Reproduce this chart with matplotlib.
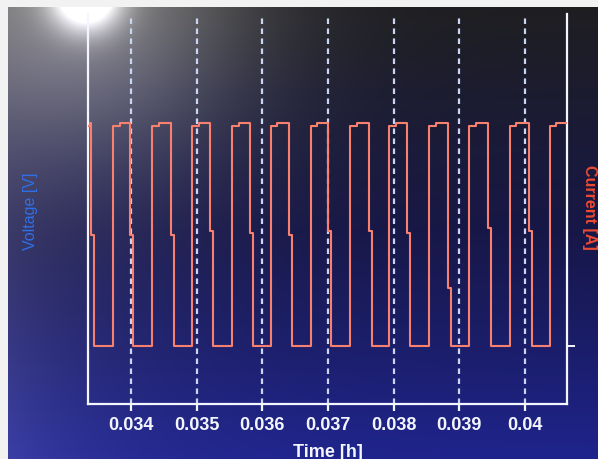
import numpy as np
import matplotlib
matplotlib.use("Agg")
import matplotlib.pyplot as plt

# ---------- data: current square wave (time in h, current in A) ----------
t_start = 0.033345
t_end = 0.040640

rise_t = [0.033726, 0.034320, 0.034929, 0.035538, 0.036132, 0.036741,
          0.037335, 0.037929, 0.038538, 0.039147, 0.039771, 0.040381]
fall_t = [0.033391, 0.033985, 0.034609, 0.035203, 0.035812, 0.036406,
          0.037000, 0.037624, 0.038203, 0.038827, 0.039437, 0.040061]
fall_end_t = [0.033430, 0.034024, 0.034648, 0.035242, 0.035851, 0.036445,
              0.037039, 0.037663, 0.038242, 0.038866, 0.039476, 0.040100]
fall_mid = [5.0, 5.0, 5.0, 5.2, 5.1, 5.0, 5.2, 5.2, 5.1, 2.6, 5.3, 5.2]
top_step_t = [0.033370, 0.033830, 0.034420, 0.035030, 0.035640, 0.036230,
              0.036840, 0.037435, 0.038030, 0.038640, 0.039250, 0.039870,
              0.040480]

i_low = 0.0
i_high_a = 9.9
i_high_b = 10.05

xtick_vals = [0.034, 0.035, 0.036, 0.037, 0.038, 0.039, 0.040]
xtick_labels = ["0.034", "0.035", "0.036", "0.037", "0.038", "0.039", "0.04"]

# ---------- build step trace ----------
tt = [t_start, top_step_t[0], top_step_t[0]]
ii = [i_high_a, i_high_a, i_high_b]
for k in range(len(fall_t)):
    tt += [fall_t[k], fall_t[k], fall_end_t[k], fall_end_t[k]]
    ii += [ii[-1], fall_mid[k], fall_mid[k], i_low]
    r = rise_t[k]
    s = top_step_t[k + 1]
    tt += [r, r, s, s]
    ii += [i_low, i_high_a, i_high_a, i_high_b]
tt += [t_end]
ii += [i_high_b]

# ---------- figure ----------
W, H = 598, 460
fig = plt.figure(figsize=(W / 100, H / 100), dpi=100, facecolor="#f2f2f2")

# screen background: dark top fading into blue, glare at upper left
bw, bh = 590, 452
yy, xx = np.mgrid[0:bh, 0:bw].astype(float)
fy = yy / bh
top = np.array([0.12, 0.12, 0.13])
mid = np.array([0.09, 0.09, 0.28])
bot = np.array([0.12, 0.14, 0.55])
w1 = np.clip(fy / 0.5, 0, 1)[..., None]
w2 = np.clip((fy - 0.5) / 0.5, 0, 1)[..., None]
img = top * (1 - w1) + mid * w1
img = img * (1 - w2) + bot * w2
left_glow = 0.11 * np.exp(-xx / 110.0)[..., None]
img = img + left_glow * np.array([1.0, 0.95, 0.9])
r = np.hypot(xx - 78, yy + 12)
img = img + 0.36 * np.exp(-(r / 160.0) ** 2)[..., None]
img = img + 0.9 * np.exp(-(r / 34.0) ** 2)[..., None]
img = np.clip(img, 0, 1)

bg = fig.add_axes([8 / W, 0, bw / W, bh / H])
bg.imshow(img, aspect="auto", interpolation="bilinear")
bg.axis("off")

ax = fig.add_axes([88 / W, 55 / H, 479 / W, 390 / H], facecolor="none")
ax.plot(tt, ii, color="#f7806e", lw=1.5, zorder=3)

ax.set_xlim(t_start, t_end)
ax.set_ylim(-2.6, 14.95)

spine_col = "#f4f6ff"
for side in ["left", "bottom", "right"]:
    ax.spines[side].set_color(spine_col)
    ax.spines[side].set_linewidth(1.6)
ax.spines["top"].set_visible(False)

ax.set_xticks(xtick_vals)
ax.set_xticklabels(xtick_labels)
ax.tick_params(axis="x", direction="out", length=5, width=1.6,
               colors=spine_col, labelsize=13, pad=4)
for lab in ax.get_xticklabels():
    lab.set_fontfamily("Liberation Sans")
    lab.set_fontweight("bold")

ax.yaxis.tick_right()
ax.set_yticks([i_low])
ax.set_yticklabels([])
ax.tick_params(axis="y", direction="out", length=6, width=1.4, colors=spine_col)

ax.grid(axis="x", color="#c9d5f2", lw=1.6, linestyle=(0, (2.5, 2.0)), zorder=1)

ax.set_xlabel("Time [h]", color="#f4f6ff", fontsize=13, fontweight="bold",
              family="Liberation Sans", labelpad=7)

fig.text(30 / W, 1 - 211 / H, "Voltage [V]", color="#2f6fe6", fontsize=11.5,
         rotation=90, ha="center", va="center", family="Liberation Sans")
fig.text(589 / W, 1 - 207 / H, "Current [A]", color="#ec4a32", fontsize=11.5,
         rotation=270, ha="center", va="center", family="Liberation Sans",
         fontweight="bold")

fig.savefig("out.png", dpi=100, facecolor=fig.get_facecolor())
